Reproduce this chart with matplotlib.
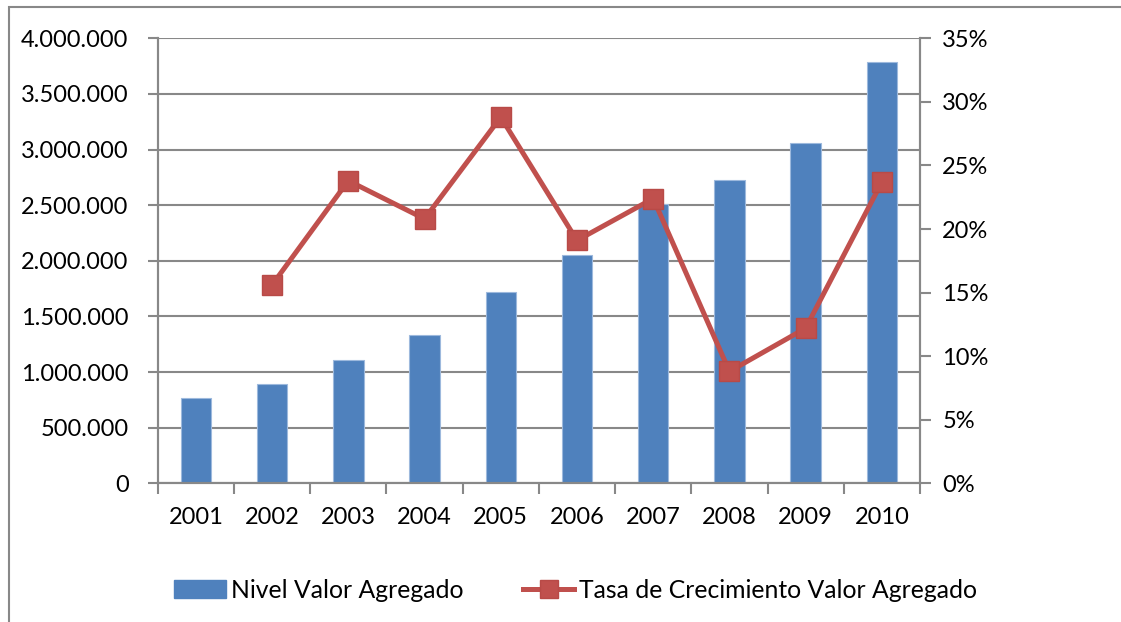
import numpy as np
import matplotlib.pyplot as plt
from matplotlib.lines import Line2D
from matplotlib.patches import Patch, Rectangle
from matplotlib.ticker import FuncFormatter

plt.rcParams["font.family"] = ["Lato", "DejaVu Sans"]

# data
years = ["2001", "2002", "2003", "2004", "2005", "2006", "2007", "2008", "2009", "2010"]
nivel = [770000, 890000, 1106000, 1337000, 1720000, 2050000, 2511000, 2727000, 3063000, 3787000]
tasa = [np.nan, 15.6, 23.8, 20.8, 28.8, 19.1, 22.4, 8.8, 12.2, 23.7]

blue = "#4F81BD"
red = "#C0504D"
grid = "#888888"
fs = 17

fig = plt.figure(figsize=(11.21, 6.22), dpi=100)
ax = fig.add_axes([0.1407, 0.2230, 0.6800, 0.7154])
ax2 = ax.twinx()

x = np.arange(len(years))
ax.bar(x, nivel, width=0.4, color=blue, edgecolor="#9DB9DD", linewidth=0.8, zorder=2)
ax2.plot(x, tasa, color=red, lw=3.6, marker="s", ms=14, mfc=red, mec="#B84A47", zorder=3)

ax.set_xlim(-0.5, len(years) - 0.5)
ax.set_ylim(0, 4000000)
ax2.set_ylim(0, 35)
ax.set_yticks(np.arange(0, 4000001, 500000))
ax2.set_yticks(np.arange(0, 36, 5))
ax.yaxis.set_major_formatter(FuncFormatter(lambda v, p: f"{int(v):,}".replace(",", ".")))
ax2.yaxis.set_major_formatter(FuncFormatter(lambda v, p: f"{int(v)}%"))

ax.set_xticks(x)
ax.set_xticklabels(years)
ax.set_xticks(np.arange(-0.5, len(years)), minor=True)
ax.tick_params(axis="x", which="major", length=0, labelsize=fs, pad=17)
ax.tick_params(axis="x", which="minor", length=8, width=1.5, color=grid)
ax.tick_params(axis="y", length=7, width=1.5, color=grid, labelsize=fs, pad=14)
ax2.tick_params(axis="y", length=8, width=1.5, color=grid, labelsize=fs, pad=8)

ax.grid(axis="y", color=grid, lw=1.5, zorder=0)
ax.set_axisbelow(True)
for a in (ax, ax2):
    a.spines["top"].set_visible(False)
    for s in ("left", "right", "bottom"):
        a.spines[s].set_color(grid)
        a.spines[s].set_linewidth(1.5)

handles = [Patch(facecolor=blue, edgecolor=blue),
           Line2D([], [], color=red, lw=3.6, marker="s", ms=13, mfc=red, mec="#B84A47")]
fig.legend(handles, ["Nivel Valor Agregado", "Tasa de Crecimiento Valor Agregado"],
           loc="center", bbox_to_anchor=(0.5135, 0.051), ncol=2, frameon=False,
           fontsize=17.8, handlelength=2.1, handletextpad=0.2, columnspacing=2.4)

# chart frame
fig.patches.append(Rectangle((9 / 1121, -0.1), 1.2, 1 - 7 / 622 + 0.1, transform=fig.transFigure,
                             fill=False, edgecolor=grid, lw=1.5))

fig.savefig("out.png", dpi=100)
